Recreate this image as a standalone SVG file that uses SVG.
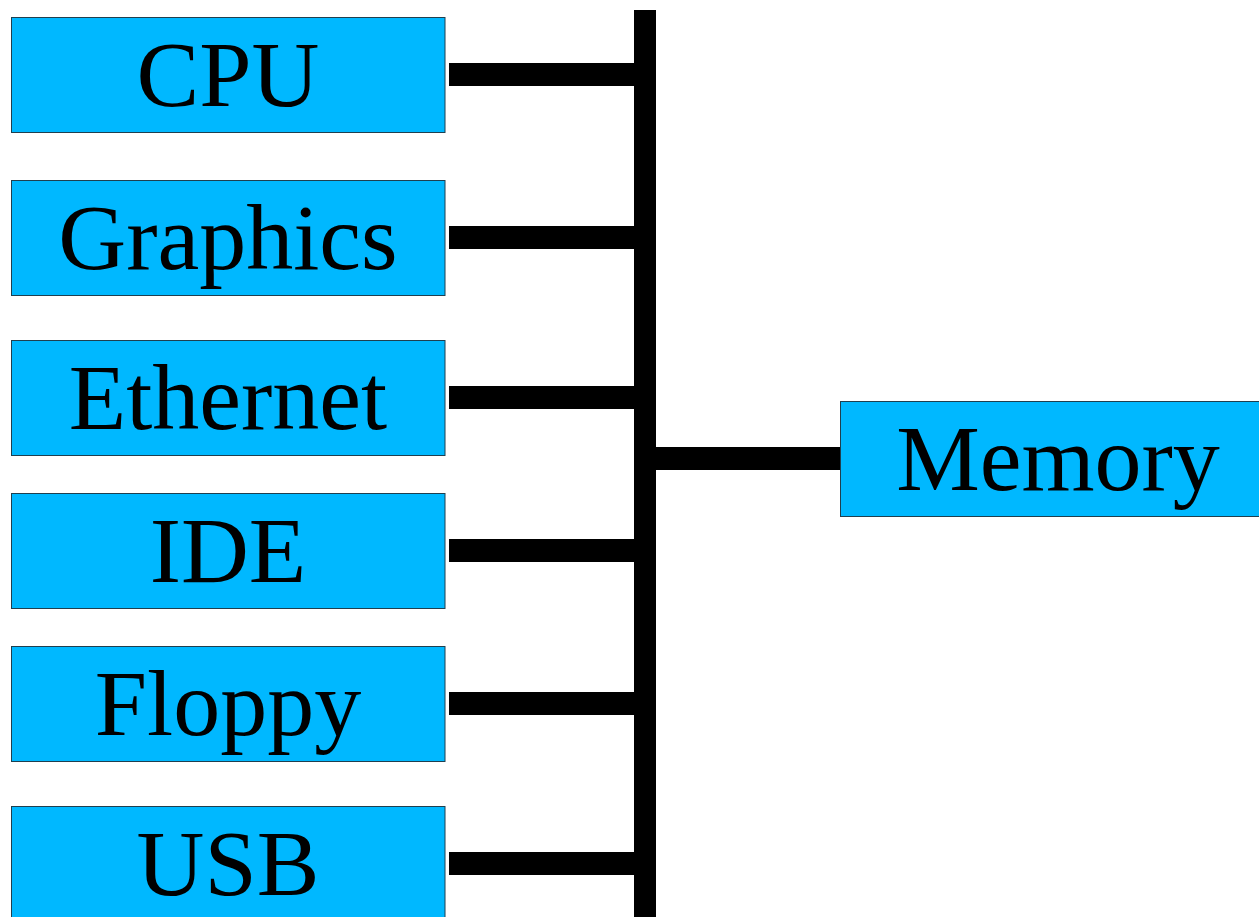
<svg xmlns="http://www.w3.org/2000/svg" width="1259" height="917" viewBox="0 0 1259 917">
<style>
.box{fill:#00b8ff;stroke:#1f3f4f;stroke-width:1}
.lbl{font-family:"Liberation Serif","Times New Roman",serif;font-size:94px;fill:#000;text-anchor:middle}
.bus{fill:#000}
</style>
<rect width="1259" height="917" fill="#fff"/>
<g id="connectors">
<rect class="bus" x="634" y="10" width="22" height="907"/>
<rect class="bus" x="449" y="63" width="186" height="23"/>
<rect class="bus" x="449" y="226" width="186" height="23"/>
<rect class="bus" x="449" y="386" width="186" height="23"/>
<rect class="bus" x="449" y="539" width="186" height="23"/>
<rect class="bus" x="449" y="692" width="186" height="23"/>
<rect class="bus" x="449" y="852" width="186" height="23"/>
<rect class="bus" x="655" y="447" width="186" height="23"/>
</g>
<g id="cpu"><rect class="box" x="11.5" y="17.5" width="433.5" height="115"/><text class="lbl" x="228" y="106">CPU</text></g>
<g id="graphics"><rect class="box" x="11.5" y="180.5" width="433.5" height="115"/><text class="lbl" x="228" y="269">Graphics</text></g>
<g id="ethernet"><rect class="box" x="11.5" y="340.5" width="433.5" height="115"/><text class="lbl" x="228" y="429">Ethernet</text></g>
<g id="ide"><rect class="box" x="11.5" y="493.5" width="433.5" height="115"/><text class="lbl" x="228" y="582">IDE</text></g>
<g id="floppy"><rect class="box" x="11.5" y="646.5" width="433.5" height="115"/><text class="lbl" x="228" y="735">Floppy</text></g>
<g id="usb"><rect class="box" x="11.5" y="806.5" width="433.5" height="115"/><text class="lbl" x="228" y="895">USB</text></g>
<g id="memory"><rect class="box" x="840.5" y="401.5" width="430" height="115"/><text class="lbl" x="1058" y="490">Memory</text></g>
</svg>
